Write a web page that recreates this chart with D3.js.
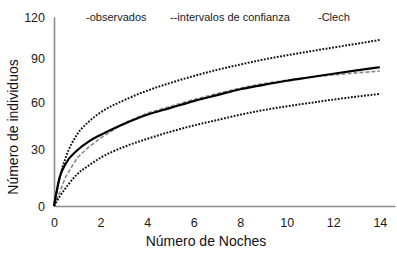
<!DOCTYPE html>
<html><head><meta charset="utf-8">
<script src="https://cdn.jsdelivr.net/npm/d3@7"></script>
<style>body{margin:0;background:#fff}svg{display:block}</style>
</head><body>
<script>
const nights   = [0,0.25,0.5,1,1.5,2,3,4,5,6,7,8,9,10,11,12,13,14];
const upperCI  = [0,14,25,39.5,47.5,53.5,61.5,68,73.3,78,82.3,86,89.5,92.5,95.3,98,100.7,103.4];
const lowerCI  = [0,4,8,15.5,20.5,25,31.5,36.5,41,45,48.5,52,55,57.5,59.8,62,64,65.8];
const clench   = [0,14,21.5,29.5,35,39,46,52,56.5,61,65,69,72,74.8,77.2,79.6,81.9,84.1];
const observed = [0,6,14,25,31.5,37,46.5,53,57.5,62,66,69.8,72.8,75.2,77.2,78.8,80.2,81.5];
const xTicks = [0,2,4,6,8,10,12,14];
const yTicks = [0,30,60,90,120];
const legendItems = ["-observados","--intervalos de confianza","-Clech"];

const W=397,H=257;
const svg=d3.select("body").append("svg").attr("width",W).attr("height",H);
const x=d3.scaleLinear().domain([0,14.65]).range([54,395]);
const y=d3.scalePow().exponent(0.87).domain([0,120]).range([206,17]);
const font="Liberation Sans, Arial, sans-serif";

const xa=svg.append("g").attr("transform","translate(0,206)")
  .call(d3.axisBottom(x).tickValues(xTicks).tickSize(0).tickPadding(12));
const ya=svg.append("g").attr("transform","translate(54,0)")
  .call(d3.axisLeft(y).tickValues(yTicks).tickSize(0).tickPadding(9));
[xa,ya].forEach(g=>{
  g.select(".domain").attr("stroke","#8c8c8c").attr("stroke-width",1.6);
  g.selectAll("text").attr("font-family",font).attr("font-size",12.5).attr("fill","#1a1a1a");
});

const line=(v,c)=>d3.line().x((d,i)=>x(nights[i])).y(d=>y(d)).curve(c||d3.curveMonotoneX)(v);
svg.append("path").attr("d",line(observed,d3.curveLinear)).attr("fill","none").attr("stroke","#8a8a8a")
  .attr("stroke-width",1.6).attr("stroke-dasharray","4 2");
[upperCI,lowerCI].forEach(s=>svg.append("path").attr("d",line(s)).attr("fill","none")
  .attr("stroke","#111").attr("stroke-width",2).attr("stroke-dasharray","1.8 1.5"));
svg.append("path").attr("d",line(clench)).attr("fill","none").attr("stroke","#000")
  .attr("stroke-width",2.2);

const lx=[86,170,318];
legendItems.forEach((t,i)=>svg.append("text").attr("x",lx[i]).attr("y",21)
  .attr("font-family",font).attr("font-size",11).attr("fill","#1a1a1a").text(t));

svg.append("text").attr("x",206).attr("y",246).attr("text-anchor","middle")
  .attr("font-family",font).attr("font-size",14).attr("fill","#111").text("Número de Noches");
svg.append("text").attr("transform","translate(18,127) rotate(-90)").attr("text-anchor","middle")
  .attr("font-family",font).attr("font-size",14).attr("fill","#111").text("Número de individuos");
</script>
</body></html>
